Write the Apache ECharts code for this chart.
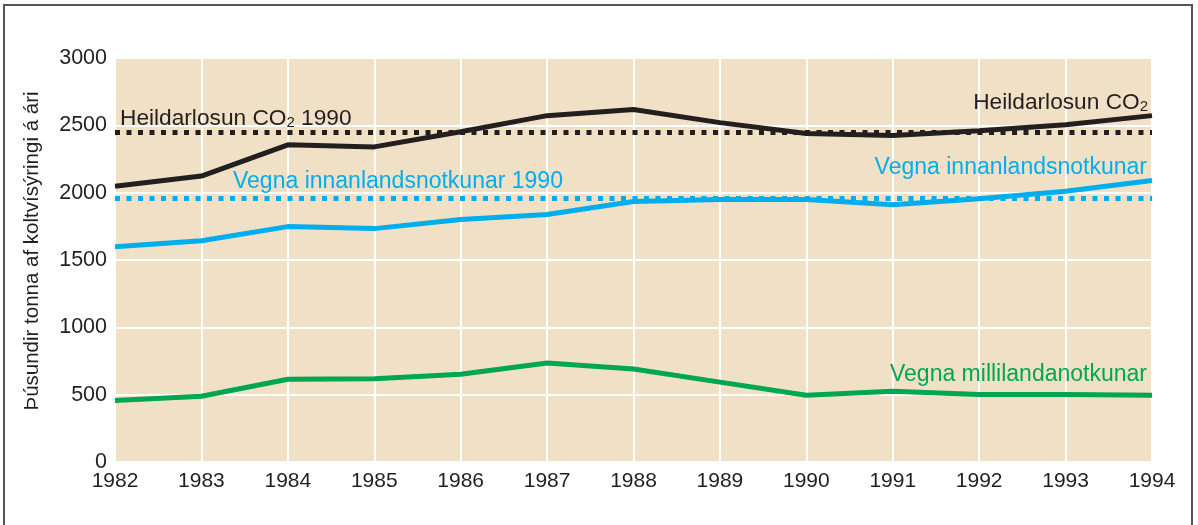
<!DOCTYPE html>
<html>
<head>
<meta charset="utf-8">
<script src="https://cdn.jsdelivr.net/npm/echarts@6/dist/echarts.min.js"></script>
<style>
  html, body { margin: 0; padding: 0; background: #fff; }
  #main { width: 1198px; height: 525px; }
</style>
</head>
<body>
<div id="main"></div>
<script>
// ár
var years = ['1982','1983','1984','1985','1986','1987','1988','1989','1990','1991','1992','1993','1994'];
// Heildarlosun CO2
var heild = [2048, 2123, 2355, 2340, 2452, 2572, 2618, 2520, 2440, 2425, 2460, 2505, 2572];
// Vegna innanlandsnotkunar
var innan = [1598, 1643, 1748, 1733, 1800, 1838, 1935, 1950, 1950, 1910, 1955, 2010, 2090];
// Vegna millilandanotkunar
var milli = [457, 488, 615, 618, 652, 735, 690, 593, 495, 525, 502, 502, 495];
// viðmið 1990
var heild1990 = 2445;
var innan1990 = 1958;

var cBlack = '#231f20';
var cBlue = '#00aeef';
var cGreen = '#00a651';
var font = '"Liberation Sans", Arial, sans-serif';

var chart = echarts.init(document.getElementById('main'));

var option = {
    backgroundColor: '#fff',
    animation: false,
    grid: {
        left: 115,
        right: 46,
        top: 58,
        bottom: 63,
        show: true,
        backgroundColor: '#f0e0c6',
        borderWidth: 0
    },
    xAxis: {
        type: 'category',
        data: years,
        boundaryGap: false,
        axisLine: { show: false },
        axisTick: { show: false },
        axisLabel: { color: cBlack, fontSize: 21, fontFamily: font, margin: 9 },
        splitLine: { show: true, lineStyle: { color: '#fff', width: 2 } }
    },
    yAxis: {
        type: 'value',
        min: 0,
        max: 3000,
        interval: 500,
        name: 'Þúsundir tonna af koltvísýringi á ári',
        nameLocation: 'middle',
        nameGap: 72,
        nameTextStyle: { color: cBlack, fontSize: 20.5, fontFamily: font, padding: [0, 0, 0, 18] },
        axisLine: { show: false },
        axisTick: { show: false },
        axisLabel: {
            color: cBlack, fontSize: 21.5, fontFamily: font, margin: 8,
            formatter: function (v) { return String(v); }
        },
        splitLine: { show: true, lineStyle: { color: '#fff', width: 2 } }
    },
    series: [
        {
            name: 'Vegna millilandanotkunar',
            type: 'line',
            data: milli,
            symbol: 'none',
            lineStyle: { color: cGreen, width: 5 }
        },
        {
            name: 'Vegna innanlandsnotkunar',
            type: 'line',
            data: innan,
            symbol: 'none',
            lineStyle: { color: cBlue, width: 5 },
            markLine: {
                silent: true,
                symbol: 'none',
                label: { show: false },
                lineStyle: { color: cBlue, width: 5, type: [5, 6.5] },
                data: [{ yAxis: innan1990 }]
            }
        },
        {
            name: 'Heildarlosun CO2',
            type: 'line',
            data: heild,
            symbol: 'none',
            lineStyle: { color: cBlack, width: 5 },
            markLine: {
                silent: true,
                symbol: 'none',
                label: { show: false },
                lineStyle: { color: cBlack, width: 5, type: [5, 6.5] },
                data: [{ yAxis: heild1990 }]
            }
        }
    ],
    graphic: [
        {
            type: 'rect', z: 100,
            shape: { x: 4, y: 5, width: 1188, height: 540 },
            style: { fill: 'none', stroke: '#555', lineWidth: 2 }
        },
        {
            type: 'text', left: 120, top: 107, z: 100,
            style: {
                text: '{t|Heildarlosun CO}{s|2}{t| 1990}',
                rich: {
                    t: { fontSize: 22.7, fontFamily: font, fill: cBlack },
                    s: { fontSize: 15, fontFamily: font, fill: cBlack, padding: [8, 0, 0, 0] }
                }
            }
        },
        {
            type: 'text', right: 50, top: 91, z: 100,
            style: {
                text: '{t|Heildarlosun CO}{s|2}',
                rich: {
                    t: { fontSize: 22.7, fontFamily: font, fill: cBlack },
                    s: { fontSize: 15, fontFamily: font, fill: cBlack, padding: [8, 0, 0, 0] }
                }
            }
        },
        {
            type: 'text', left: 233, top: 170, z: 100,
            style: { text: 'Vegna innanlandsnotkunar 1990', fontSize: 23, fontFamily: font, fill: cBlue }
        },
        {
            type: 'text', right: 51, top: 156, z: 100,
            style: { text: 'Vegna innanlandsnotkunar', fontSize: 23, fontFamily: font, fill: cBlue }
        },
        {
            type: 'text', right: 51, top: 363, z: 100,
            style: { text: 'Vegna millilandanotkunar', fontSize: 23, fontFamily: font, fill: cGreen }
        }
    ]
};

chart.setOption(option);
</script>
</body>
</html>
